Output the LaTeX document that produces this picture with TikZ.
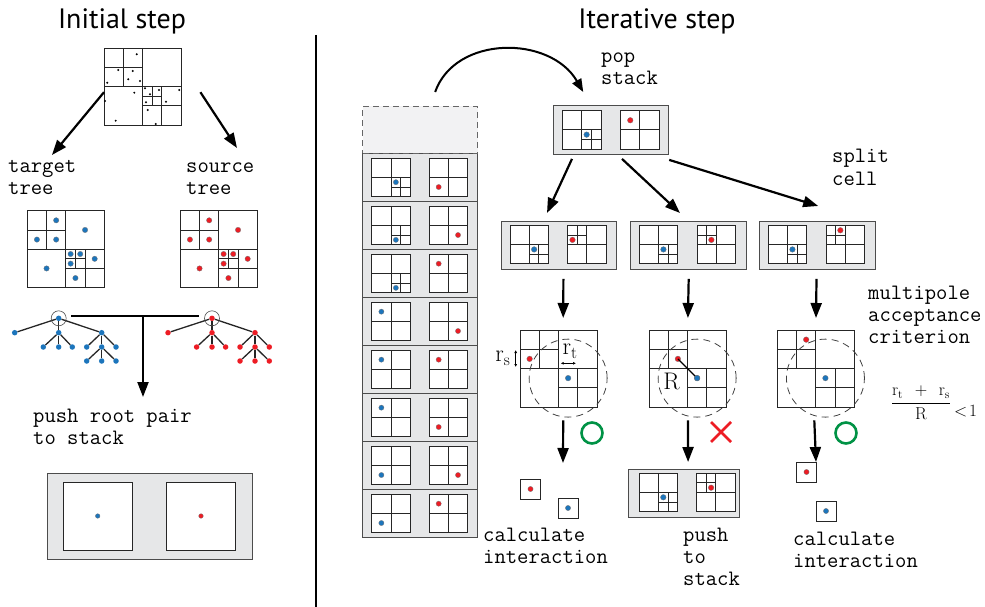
\documentclass[tikz,border=0pt]{standalone}
\usepackage{fontspec}
\newfontfamily\headfont{PT Sans}
\usetikzlibrary{arrows.meta}

\definecolor{tblue}{RGB}{28,117,188}
\definecolor{sred}{RGB}{237,28,36}
\definecolor{boxgray}{RGB}{230,231,232}
\definecolor{slotgray}{RGB}{242,242,243}
\definecolor{okgreen}{RGB}{0,146,69}

\tikzset{
  qline/.style={draw=black!85, line width=0.9pt},
  tdot/.style={fill=tblue, draw=black!55, line width=0.3pt},
  sdot/.style={fill=sred, draw=black!55, line width=0.3pt},
  graybox/.style={draw=black!70, fill=boxgray, line width=0.9pt, inner sep=0pt, anchor=north west},
  slotbox/.style={draw=black!60, fill=slotgray, line width=1pt, dash pattern=on 6pt off 4pt, inner sep=0pt, anchor=north west},
  sqnode/.style={inner sep=0pt, anchor=north west},
  smallsq/.style={draw=black!85, fill=white, line width=0.9pt, minimum size=20pt, inner sep=0pt},
  bigarrow/.style={line width=2.2pt, -{Triangle[length=15pt,width=11pt]}},
  poparrow/.style={line width=2pt, -{Triangle[length=13pt,width=10pt]}},
  sizearrow/.style={line width=0.7pt, {Latex[length=3pt,width=3pt]}-{Latex[length=3pt,width=3pt]}},
  macring/.style={draw=black!75, line width=0.8pt, dash pattern=on 7pt off 5pt},
  treedot/.style={circle, inner sep=0pt, minimum size=5.5pt},
  treeedge/.style={line width=1.3pt, black!85},
  lbl/.style={font=\fontsize{22}{22}\selectfont\ttfamily, align=left, anchor=base west, inner sep=0pt},
  headline/.style={font=\fontsize{28}{32}\selectfont\headfont, anchor=base},
  mathlbl/.style={font=\fontsize{24}{28}\selectfont, inner sep=0pt},
}

% square cell split in four, #1,#2 top left, #3 size, #4 contents
\newcommand\quadsq[4]{%
  \begin{scope}[shift={({#1},{#2})},x=#3pt,y=-#3pt]
    \filldraw[qline,fill=white] (0,0) rectangle (1,1);
    \draw[qline] (0.5,0) -- (0.5,1) (0,0.5) -- (1,0.5);
    #4
  \end{scope}}
% split the quadrant with top left corner #1,#2
\newcommand\splitq[2]{\draw[qline] ({#1+0.25},#2) -- ++(0,0.5) (#1,{#2+0.25}) -- ++(0.5,0);}
\newcommand\initgrid{\splitq{0}{0}\splitq{0.5}{0.5}\draw[qline] (0.625,0.5) -- (0.625,0.75) (0.5,0.625) -- (0.75,0.625);}

\begin{document}
\begin{tikzpicture}[x=1pt,y=-1pt]
\useasboundingbox (0,0) rectangle (985,607);

\node[headline] (initial) at (122,29) {Initial step};
\node[headline] (iterative) at (657,29) {Iterative step};
\draw[line width=1.2pt] (316,35) -- (316,607);

%% initial step
\node[sqnode, minimum size=77pt] (allpts) at (104,48) {};
\quadsq{104}{48}{77}{\initgrid
  \foreach \p in {(0.425,0.082),(0.186,0.286),(0.373,0.299),(0.316,0.406),(0.468,0.429),(0.043,0.451),(0.394,0.581),(0.532,0.523),(0.597,0.601),(0.714,0.545),(0.978,0.545),(0.013,0.688),(0.545,0.705),(0.805,0.697),(0.568,0.805),(0.152,0.944),(0.671,0.987)}
    \fill \p circle (1.1pt);}

\node[lbl] (tgtlbl) at (8,194) {target\\tree};
\node[lbl] (srclbl) at (186,194) {source\\tree};
\coordinate (tgtin) at (52,155);
\coordinate (srcin) at (237,148);
\draw[bigarrow] ([yshift=-5.5pt]allpts.west) -- (tgtin);
\draw[bigarrow] ([xshift=19pt,yshift=-5.5pt]allpts.east) -- (srcin);

\foreach \qx/\sty in {27.3/tdot,180.3/sdot}{
  \quadsq{\qx}{210.7}{77}{\initgrid
    \foreach \p in {(0.375,0.125),(0.75,0.25),(0.125,0.375),(0.375,0.375),(0.5625,0.5625),(0.6875,0.5625),(0.5625,0.6875),(0.875,0.625),(0.25,0.75),(0.625,0.875)}
      \filldraw[\sty] \p circle (2.7pt);}
}

% trees
\foreach \dx/\col/\nm in {0/tblue/t,153.3/sred/s}{
  \foreach \k/\px/\py in {0/58.7/318.3,1/14.7/332.7,2/58.7/332.7,3/101.7/332.7,4/43.3/347,5/58.7/347,6/72.3/347,7/86.7/347,8/101.7/347,9/116/347,10/86.7/361,11/101.7/361,12/116/361}
    \node[treedot, fill=\col] (\nm\k) at ({\px+\dx},\py) {};
  \foreach \a/\b in {0/1,0/2,0/3,2/4,2/5,2/6,3/7,3/8,3/9,8/10,8/11,8/12}
    \draw[treeedge] (\nm\a) -- (\nm\b);
  \node[circle, draw=black!70, line width=0.6pt, minimum size=15pt, inner sep=0pt] (\nm ring) at (\nm0) {};
}
\draw[line width=2pt] ([xshift=4.8pt,yshift=2.6pt]tring.east) -- ([xshift=-5.2pt,yshift=2.6pt]sring.west);
\coordinate (join) at (143,315.7);
\coordinate (pushtip) at (143,397);
\draw[bigarrow] (join) -- (pushtip);

\node[lbl] (pushroot) at (33,444) {push root pair\\to stack};

\node[graybox, minimum width=205.6pt, minimum height=85.7pt] (rootpair) at (46.7,473.3) {};
\filldraw[qline, fill=white] (63.7,482) rectangle +(68.3,68);
\filldraw[qline, fill=white] (166.7,482) rectangle +(69,68);
\filldraw[tdot] (97.7,516) circle (2.3pt);
\filldraw[sdot] (201,516) circle (2.3pt);

%% iterative step
\foreach \i/\ls/\bx/\by/\rx/\ry in {1/1/0.625/0.625/0.25/0.75, 2/1/0.625/0.875/0.75/0.75, 3/1/0.625/0.875/0.25/0.25, 4/0/0.25/0.25/0.75/0.75, 5/0/0.25/0.25/0.25/0.25, 6/0/0.25/0.25/0.25/0.75, 7/0/0.25/0.75/0.75/0.75, 8/0/0.25/0.75/0.25/0.25}{
  \node[graybox, minimum width=114.7pt, minimum height=48pt] (row\i) at (362.3,{152.7+48*(\i-1)}) {};
  \quadsq{371.7}{158+48*(\i-1)}{38.7}{\ifnum\ls=1 \splitq{0.5}{0.5}\fi
    \filldraw[tdot] (\bx,\by) circle (2.6pt);}
  \quadsq{429}{158+48*(\i-1)}{38.7}{\filldraw[sdot] (\rx,\ry) circle (2.6pt);}
}
\node[slotbox, minimum width=114.7pt, minimum height=46.7pt] (slot0) at (362.3,106) {};

\node[graybox, minimum width=115pt, minimum height=49pt] (popped) at (553.3,105) {};
\quadsq{562.7}{110.7}{38.3}{\splitq{0.5}{0.5}\filldraw[tdot] (0.625,0.625) circle (2.8pt);}
\quadsq{620.7}{110.7}{38.3}{\filldraw[sdot] (0.25,0.25) circle (2.8pt);}
\draw[poparrow] ([xshift=15pt,yshift=14pt]slot0.north) .. controls +(20,-57) and +(-33,-57) .. ([xshift=-28pt,yshift=13pt]popped.north);
\node[lbl] (poplbl) at (601,85) {pop\\stack};

% split cell
\foreach \n/\bx/\rx/\ry in {A/500.7/0.125/0.375, B/630/0.375/0.375, C/759/0.375/0.125}{
  \node[graybox, minimum width=115.5pt, minimum height=48pt] (split\n) at (\bx,220.7) {};
  \quadsq{\bx+9.5}{225.5}{38.3}{\splitq{0.5}{0.5}\filldraw[tdot] (0.625,0.625) circle (2.8pt);}
  \quadsq{\bx+67}{225.5}{38.3}{\splitq{0}{0}\filldraw[sdot] (\rx,\ry) circle (2.8pt);}
}
\node[lbl] (splitlbl) at (832,185) {split\\cell};
\draw[bigarrow] ([xshift=18.7pt,yshift=-4pt]popped.south west) -- ([xshift=46.3pt,yshift=7.7pt]splitA.north west);
\draw[bigarrow] ([xshift=68.7pt,yshift=-4pt]popped.south west) -- ([xshift=50pt,yshift=7.7pt]splitB.north west);
\draw[bigarrow] ([yshift=-5pt]popped.south east) -- ([xshift=1pt,yshift=14.7pt]splitC.north);

% acceptance criterion
\foreach \n/\mx/\rx/\ry in {A/520/0.125/0.375, B/649/0.375/0.375, C/777.3/0.375/0.125}{
  \node[sqnode, minimum size=77pt] (mac\n) at (\mx,330) {};
  \quadsq{\mx}{330}{77}{\splitq{0}{0}\splitq{0.5}{0.5}
    \draw[macring] (0.625,0.625) circle (39pt);
    \filldraw[sdot] (\rx,\ry) circle (2.8pt);
    \filldraw[tdot] (0.625,0.625) circle (2.8pt);}
}
\draw[bigarrow] ([xshift=4.5pt,yshift=-9.3pt]splitA.south) -- ([xshift=4.5pt,yshift=12pt]macA.north);
\draw[bigarrow] ([xshift=0.5pt,yshift=-9.3pt]splitB.south) -- ([xshift=0.2pt,yshift=12pt]macB.north);
\draw[bigarrow] ([xshift=-0.7pt,yshift=-9.3pt]splitC.south) -- ([yshift=12pt]macC.north);
\node[lbl] (maclbl) at (868,343) {multipole\\acceptance\\criterion};

\node[mathlbl] (rslbl) at (503,358) {$\mathrm{r_s}$};
\draw[sizearrow] (515.7,350) -- (515.7,367);
\node[mathlbl] (rtlbl) at (570,351) {$\mathrm{r_t}$};
\draw[sizearrow] (560.7,363.3) -- (576,363.3);
\draw[line width=1.1pt] (677.9,358.9) -- (697.1,378.1);
\node[mathlbl] (rlbl) at (671.5,381) {$\mathrm{R}$};
\filldraw[tdot] (697.1,378.1) circle (2.8pt);

\node[inner sep=0pt, font=\LARGE] (crit) at (934,403) {$\displaystyle\frac{\mathrm{r_t}\;\,+\;\,\mathrm{r_s}}{\mathrm{R}}\,\raisebox{-9pt}{$<\!1$}$};

% results
\node[graybox, minimum width=110.7pt, minimum height=47.7pt] (pushB) at (628.3,469) {};
\quadsq{639.3}{473.3}{38.4}{\splitq{0.5}{0.5}\filldraw[tdot] (0.625,0.625) circle (2.8pt);}
\quadsq{696.7}{473.3}{38.4}{\splitq{0}{0}\filldraw[sdot] (0.375,0.375) circle (2.8pt);}

\draw[okgreen, line width=2.6pt] (592,433) circle (10.5pt);
\draw[sred, line width=2.6pt] (711,422) -- (731,442) (711,442) -- (731,422);
\draw[okgreen, line width=2.6pt] (846,433) circle (10.5pt);

\coordinate (tipA) at (563,463);
\coordinate (tipC) at (816,462);
\draw[bigarrow] ([xshift=4.5pt,yshift=-13pt]macA.south) -- (tipA);
\draw[bigarrow] ([xshift=0.2pt,yshift=-13pt]macB.south) -- ([xshift=4pt,yshift=7pt]pushB.north);
\draw[bigarrow] ([xshift=-1.7pt,yshift=-13pt]macC.south) -- (tipC);

\node[smallsq] (resA1) at (530.5,489) {};
\filldraw[sdot] (resA1) circle (2.6pt);
\node[smallsq] (resA2) at (568,508) {};
\filldraw[tdot] (resA2) circle (2.6pt);
\node[smallsq] (resC1) at (806.5,472) {};
\filldraw[sdot] (resC1) circle (2.6pt);
\node[smallsq] (resC2) at (826,511) {};
\filldraw[tdot] (resC2) circle (2.6pt);

\node[lbl] (calcA) at (483,563) {calculate\\interaction};
\node[lbl] (pushlbl) at (683,585) {push\\to\\stack};
\node[lbl] (calcC) at (793,567) {calculate\\interaction};
\end{tikzpicture}
\end{document}
